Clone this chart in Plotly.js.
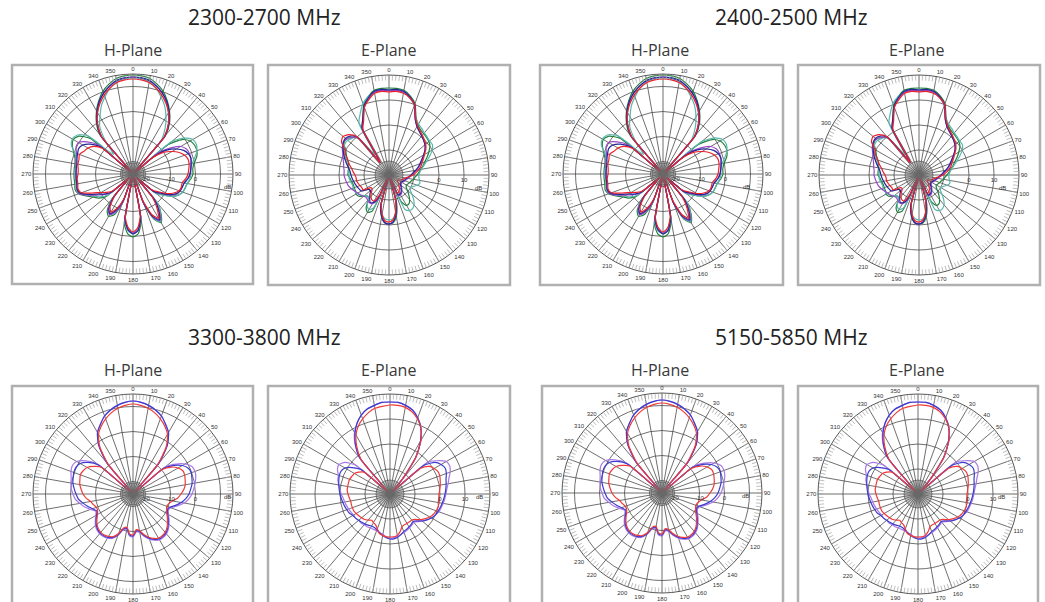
<!DOCTYPE html>
<html><head><meta charset="utf-8">
<script src="https://cdn.plot.ly/plotly-3.0.1.min.js"></script>
<style>html,body{margin:0;padding:0;background:#fff}#chart{width:1045px;height:602px}</style>
</head><body><div id="chart"></div>
<script>
// ---------- angles / tick labels ----------
const ANGLES = [0,5,10,15,20,25,30,35,40,45,50,55,60,65,70,75,80,85,90,95,100,105,110,115,120,125,130,135,140,145,150,155,160,165,170,175,180,185,190,195,200,205,210,215,220,225,230,235,240,245,250,255,260,265,270,275,280,285,290,295,300,305,310,315,320,325,330,335,340,345,350,355,360];
const ANGLE_TICKS = [0,10,20,30,40,50,60,70,80,90,100,110,120,130,140,150,160,170,180,190,200,210,220,230,240,250,260,270,280,290,300,310,320,330,340,350];
const ANGLE_LABELS = ['0','10','20','30','40','50','60','70','80','90','100','110','120','130','140','150','160','170','180','190','200','210','220','230','240','250','260','270','280','290','300','310','320','330','340','350'];
const BAND_TITLES = ['2300-2700 MHz','2400-2500 MHz','3300-3800 MHz','5150-5850 MHz'];
const PLANE_TITLES = ['H-Plane','E-Plane'];

// ---------- gain values (dB), 0..360 step 5 : 2.4 GHz bands, H-plane ----------
const H24_GREEN = [14.6,14.4,13.8,12.2,10.2,7.4,4.2,0.6,-4.6,-25, -7,-1,1.4,2.2,2.2,1.4,-0.2,-1,-1,-1.8, -3,-3.4,-3.8,-5,-7.4,-10.6,-13,-22,-9.8,-5.4, -2.6,-5,-12.2,-25,-6.2,-1,0.2,-1,-5,-25, -12.2,-7,-5.4,-7,-11.4,-22,-11.4,-8.2,-6.6,-4.2, -1.8,-1,-1.4,-1.4,-1.4,-1.4,-1.4,-1,0.2,1.8, 2.6,1.4,-3,-22,-4.2,0.6,4.2,7.4,10.2,12.2, 13.8,14.4,14.6];
const H24_TEAL = [13.4,13.2,12.6,10.6,7.8,5,1.4,-2.6,-7.4,-22, -5,0.2,2.6,3,2.2,0.6,-1,-1.8,-1.8,-2.2, -3,-3.4,-3.8,-5,-7,-10.2,-12.6,-21,-9.8,-5.8, -3,-5.4,-12.6,-25,-7,-2.2,-1,-2.2,-5.8,-25, -12.6,-7.8,-6.6,-7.8,-11.8,-21,-11.8,-9,-7.4,-5, -2.2,-1.4,-1.8,-1.8,-1.8,-1.8,-1.8,-1.4,-0.2,2.2, 3,2.2,-1,-14,-8,-1.8,1.4,5,7.8,10.6, 12.6,13.2,13.4];
const H24_PURPLE = [13.8,13.6,13,11.4,9.4,6.6,3.4,-0.2,-5.4,-25, -12.2,-7,-3,-1.4,-1,-1,-1.4,-1.8,-2.2,-3, -4.2,-4.6,-5,-5.8,-8.2,-11.4,-13.8,-23,-11.4,-6.6, -3.4,-5.8,-12.6,-25,-7.4,-2.6,-1.4,-2.6,-6.6,-25, -13,-8.2,-6.2,-7.8,-12.6,-23,-13,-10.6,-8.2,-5, -2.2,-1.8,-2.2,-2.2,-2.2,-2.2,-1.8,-1.4,-1,0.2, 0.2,-2.6,-7,-25,-5.4,-0.2,3.4,6.6,9.4,11.4, 13,13.6,13.8];
const H24_BLUE = [13.8,13.6,13,11.4,9.4,7,3.8,0.2,-5,-25, -14.2,-8.2,-5,-2.6,-1.4,-1,-1.4,-1.8,-2.2,-3, -4.2,-4.6,-5,-6.2,-8.6,-11.8,-14.2,-23,-11.8,-7, -3.8,-6.2,-13,-25,-7.4,-2.2,-1,-2.6,-6.6,-25, -13.8,-9,-6.6,-8.2,-13,-23,-13.8,-11,-9,-5.8, -2.6,-1.8,-2.2,-2.2,-2.2,-2.2,-2.2,-1.8,-1.4,-1, -1.8,-4.2,-8.2,-25,-5,0.2,3.8,7,9.4,11.4, 13,13.6,13.8];
const H24_RED = [13,12.8,12.2,10.6,8.6,6.2,3.4,-0.2,-5.4,-25, -15,-9.8,-7,-4.6,-3,-2.2,-2.2,-2.6,-3,-3.8, -5,-5,-5.4,-7,-9.4,-12.6,-15,-23,-13,-8.2, -4.6,-7,-13.8,-25,-8.2,-3.4,-1.8,-3.4,-7.4,-25, -14.6,-9.8,-7.4,-9,-13.8,-23,-14.6,-12.2,-10.2,-7, -3,-2.2,-2.6,-2.6,-3,-3,-2.6,-2.6,-2.2,-3.4, -4.2,-5.8,-9,-25,-5.4,-0.2,3.4,6.2,8.6,10.6, 12.2,12.8,13];

// ---------- 2.4 GHz bands, E-plane ----------
const E24_GREEN = [14.8,14.8,14.4,12.8,10.4,5.6,3.2,2,1.6,1.2, 0.8,0,-1.6,-3.2,-4.8,-6,-7.2,-8,-8.8,-9.6, -10,-10.8,-11.2,-11.6,-12,-11.6,-10.4,-8.8,-7.2,-6, -6,-8,-16,-8,-3.2,-0.8,-0.4,-0.8,-2.8,-7.2, -18,-4,-2.8,-4,-7.2,-8,-6.8,-5.2,-4.8,-5.2, -5.2,-5.2,-4.8,-4.4,-3.6,-3.6,-3.6,-3.2,-2.4,-1.2, 0,2,2.4,1.2,-0.8,-13,1.2,4.8,9.6,12.4, 14.4,14.8,14.8];
const E24_TEAL = [14,14,13.6,12,9.6,5.2,3.6,2.8,2,1.6, 1.2,1.2,0,-2,-4,-5.6,-6.8,-7.6,-8,-8, -7.6,-7.2,-8,-9.2,-10,-9.6,-8,-6,-4.4,-3.6, -3.6,-4.8,-16,-8.8,-4.8,-2.4,-2,-2.4,-4,-8, -18,-5.6,-4,-4.8,-7.2,-8,-7.2,-6,-5.2,-4.8, -4.8,-4.8,-4.4,-4,-4,-4,-3.6,-2.8,-1.6,-0.4, 0.8,1.6,1.6,0.8,0,-10,4,7.2,10.4,12.4, 13.6,14,14];
const E24_PURPLE = [13.6,14,13.6,12,9.6,4.8,2.4,1.2,0.4,-0.4, -1.2,-2.4,-4,-5.2,-6.4,-7.6,-8.8,-10,-10.8,-11.6, -12.4,-12.8,-13.2,-13.6,-14,-14,-13.6,-12.8,-12,-11.2, -10.8,-10.8,-20,-9.2,-4,-1.2,-0.4,-0.8,-3.2,-6.8, -20,-8.8,-6.8,-6.4,-6.8,-7.2,-6.8,-6,-5.6,-4.8, -4,-3.2,-2.8,-2.4,-2,-2,-1.6,-1.2,-0.4,0.4, 1.6,2.4,2.4,1.2,-0.4,-14,1.2,4.4,8.8,11.6, 13.6,14,13.6];
const E24_BLUE = [14,14.4,14,12.4,10,4.8,2.4,1.2,0.4,-0.4, -1.2,-2.4,-4,-5.6,-6.8,-8,-9.2,-10.4,-11.2,-12, -12.8,-13.2,-13.6,-14,-14.4,-14.4,-14,-13.2,-12.4,-11.6, -11.2,-11.2,-20,-9.2,-4,-1.2,-0.4,-0.8,-3.2,-7.2, -20,-10,-7.2,-6.8,-8,-9.2,-10.4,-10,-7.2,-6.8, -6.4,-6,-5.6,-5.2,-4.8,-4.4,-3.6,-2.4,-1.2,0, 1.2,2.4,2.8,2,0,-14,1.6,4.8,9.2,12, 14,14.4,14];
const E24_RED = [13.2,13.6,13.2,12,10,5.2,2.8,1.6,0.8,0, -0.8,-2,-3.6,-4.8,-6,-6.8,-8,-9.2,-10.4,-12, -13.2,-14,-14.4,-15.2,-16,-16,-15.2,-14.4,-13.6,-12.8, -12,-12,-20,-10,-4.8,-2,-1.2,-1.6,-4,-8, -20,-11.2,-8,-8,-8.8,-10,-11.2,-11.2,-8,-8, -7.6,-7.2,-6.8,-6.8,-6.4,-5.6,-4.8,-3.6,-2.4,-0.8, 0.4,3.2,4,2.8,0,-14,0.8,4,8.8,11.2, 13.2,13.6,13.2];

// ---------- 3.5 / 5.5 GHz bands, H-plane ----------
const H55_PURPLE = [12.2,11.8,11,9.8,8.2,5.8,3.4,-1,-8.6,-25, -8.2,-4.2,-1,1,1.4,1,0.2,-0.6,-1.4,-2.6, -4.2,-6.6,-9,-9.4,-8.6,-7.4,-6.2,-5,-4.2,-3.8, -3.8,-4.6,-5.8,-7.4,-9.4,-9.8,-7.8,-8.2,-10.6,-10.2, -7.4,-5.4,-4.6,-4.2,-4.2,-4.6,-5.4,-6.6,-7.8,-8.6, -7,-5,-3.4,-1.8,-1,-0.2,0.2,0.6,1.4,1.8, 1,-1.8,-6.2,-25,-8.6,-1,3.4,5.8,8.2,9.8, 11,11.8,12.2];
const H55_BLUE = [12.2,11.8,11,9.8,8.2,5.8,3.4,-1,-9,-25, -9,-5,-2.2,-0.6,-0.2,-0.6,-1,-1.8,-2.6,-3.8, -5.4,-7.4,-9.4,-9.8,-9,-7.8,-6.6,-5.4,-4.6,-4.2, -4.2,-5,-6.2,-7.8,-9.8,-10.2,-8.2,-8.6,-11,-10.6, -7.8,-5.8,-5,-4.6,-4.6,-5,-5.8,-7,-8.2,-9, -7.8,-6.2,-4.6,-3,-2.2,-1.4,-0.6,-0.2,0.2,0.2, -0.6,-3,-7,-25,-9,-1,3.4,5.8,8.2,9.8, 11,11.8,12.2];
const H55_RED = [11,10.6,9.8,8.6,7,5,2.6,-1.8,-9.8,-25, -9.8,-6.2,-4.2,-3,-3,-3.4,-3.8,-4.6,-5.8,-7, -9,-10.2,-10.6,-10.2,-9.4,-8.2,-7,-5.8,-5,-4.6, -4.6,-5.4,-6.6,-8.2,-10.2,-10.6,-8.6,-9,-11.4,-11, -8.2,-6.2,-5.4,-5,-5,-5.4,-6.2,-7.4,-8.6,-9.4, -9.4,-8.6,-7.8,-6.2,-5,-4.2,-3.4,-3,-2.6,-3, -3.8,-5.8,-8.2,-25,-9.8,-1.8,2.6,5,7,8.6, 9.8,10.6,11];

// ---------- 3.5 / 5.5 GHz bands, E-plane ----------
const E55_PURPLE = [16.8,16.8,16,14.8,12.4,9.2,4.4,-1.6,-12,-19, 0,3.2,6,6.4,5.6,4.4,3.6,2.8,2.4,2, 1.6,1.2,0.8,0,-0.8,-2,-3.2,-4.4,-5.2,-4.8, -4.4,-4,-3.6,-3.2,-2.8,-2.4,-2.4,-2.8,-3.6,-4, -4.4,-4.4,-4.4,-4,-4,-3.6,-3.6,-3.2,-3.2,-2.8, -2.4,-2,-1.6,-1.2,-0.4,0,0.8,1.6,2,3.2, 3.6,2,-2,-19,-1.2,4.4,8.4,11.2,13.6,15.2, 16,16.8,16.8];
const E55_BLUE = [16.8,16.8,16,14.8,12.4,9.2,4.4,-2,-12,-19, -2,2,3.6,4.4,4,3.2,2.8,2.4,2,1.6, 1.2,0.8,0.4,0,-0.8,-2,-3.2,-4.8,-5.6,-5.2, -4.8,-4.4,-4,-3.2,-2.4,-2,-2,-2.4,-3.2,-4, -4.8,-5.2,-5.2,-4.8,-4.4,-4,-3.6,-3.2,-2.8,-2, -1.6,-1.2,-0.8,-0.4,0,0.4,0.8,1.2,1.6,1.6, 0.8,-1.6,-4.8,-19,-1.2,4,8,11.2,13.6,15.2, 16,16.8,16.8];
const E55_RED = [15.6,15.6,15.2,14,12,9.2,4.8,-2,-13,-19, -4,-0.8,0.4,1.2,1.2,0.8,0.4,0,-0.4,-0.4, -0.4,0,-0.4,-0.8,-1.6,-2.8,-4,-5.6,-6.4,-6.4, -6.4,-6.4,-6,-4.4,-3.2,-2.8,-2.8,-2.8,-3.2,-3.6, -5.2,-6.4,-6.8,-7.2,-6.4,-5.6,-5.2,-4.8,-4.4,-4, -4,-4,-4,-3.6,-3.2,-2.8,-2.8,-2.8,-2.8,-3.2, -3.6,-4.8,-6.4,-19,-2,3.2,7.2,10,12,13.6, 14.8,15.2,15.6];

// ---------- layout constants ----------
const W = 1045, HT = 602, R = 100;
const COL = {green:'#23803d', teal:'#58b8ae', purple:'#9a48c8', blue:'#26269a', red:'#ee2028',
             blue2:'#3b3bd0', purple2:'#a878e6', red2:'#f03a3a'};
const SETS = {
  H24: [[H24_GREEN,COL.green],[H24_TEAL,COL.teal],[H24_PURPLE,COL.purple],[H24_BLUE,COL.blue],[H24_RED,COL.red]],
  E24: [[E24_GREEN,COL.green],[E24_TEAL,COL.teal],[E24_PURPLE,COL.purple],[E24_BLUE,COL.blue],[E24_RED,COL.red]],
  H55: [[H55_PURPLE,COL.purple2],[H55_BLUE,COL.blue2],[H55_RED,COL.red2]],
  E55: [[E55_PURPLE,COL.purple2],[E55_BLUE,COL.blue2],[E55_RED,COL.red2]]
};
const PANELS = [
  {cx:133, cy:174, plane:'H', set:'H24', box:[12,65,253,284]},
  {cx:389, cy:175, plane:'E', set:'E24', box:[268,65,510,285]},
  {cx:663, cy:174, plane:'H', set:'H24', box:[540,65,783,285]},
  {cx:919, cy:175, plane:'E', set:'E24', box:[798,65,1040,285]},
  {cx:133, cy:494, plane:'H', set:'H55', box:[12,386,253,640]},
  {cx:390, cy:494, plane:'E', set:'E55', box:[268,386,510,640]},
  {cx:662, cy:493, plane:'H', set:'H55', box:[542,386,783,640]},
  {cx:918, cy:494, plane:'E', set:'E55', box:[798,386,1038,640]}
];
const TITLE_POS = [[264,17],[791,17],[264,337],[791,337]];
const LABEL_POS = [[133,50],[388,50],[660,50],[916,50],[133,370],[388,370],[660,370],[916,370]];

const px = x => x / W;
const py = y => 1 - y / HT;
const dom = (cx, cy, r) => ({x:[px(cx - r), px(cx + r)], y:[py(cy + r), py(cy - r)]});
const SMALL = {size:6, color:'#333', family:'Liberation Sans, Arial, sans-serif'};

const traces = [];
const layout = {
  width: W, height: HT, margin:{l:0,r:0,t:0,b:0},
  paper_bgcolor:'#fff', showlegend:false, hovermode:false,
  font:{family:'Open Sans, Noto Sans, sans-serif', color:'#333'},
  shapes:[], annotations:[]
};

let n = 0;
PANELS.forEach((p, i) => {
  const isH = p.plane === 'H';
  n++; const mainId = 'polar' + (n === 1 ? '' : n);
  layout[mainId] = {
    domain: dom(p.cx, p.cy, R),
    bgcolor:'#fff',
    angularaxis:{rotation:90, direction:'clockwise', tickmode:'array', tickvals:ANGLE_TICKS, ticktext:ANGLE_LABELS,
      tickfont:SMALL, ticks:'', showgrid:true, gridcolor:'#4a4a4a', gridwidth:0.8,
      showline:true, linecolor:'#555', linewidth:1},
    radialaxis:{range: isH ? [-25,15] : [-20,20], tickmode:'array',
      tickvals: isH ? [-20,-10,0,10] : [-10,0,10],
      ticktext: isH ? ['-20','-10','0',''] : ['','0','10'],
      angle:0, tickangle:0, side:'clockwise', showline:false, ticks:'',
      gridcolor:'#4a4a4a', gridwidth:0.8, tickfont:SMALL}
  };
  SETS[p.set].forEach(([vals, color]) => {
    traces.push({type:'scatterpolar', subplot: mainId, r: vals, theta: ANGLES,
      mode:'lines', line:{color, width:1.2, shape:'spline', smoothing:0.6}, hoverinfo:'skip'});
  });
  n++; const bandId = 'polar' + n;
  layout[bandId] = {
    domain: dom(p.cx, p.cy, R), bgcolor:'rgba(0,0,0,0)',
    angularaxis:{rotation:90, direction:'clockwise', tickmode:'linear', tick0:0, dtick:2, showticklabels:false,
      ticks:'inside', ticklen:5, tickcolor:'#a8a8a8', tickwidth:0.7, showgrid:false, showline:false},
    radialaxis:{visible:false}
  };
  traces.push({type:'scatterpolar', subplot: bandId, r:[], theta:[], mode:'lines', hoverinfo:'skip'});
  n++; const coreId = 'polar' + n;
  const rc = isH ? 11 : 14;
  layout[coreId] = {
    domain: dom(p.cx, p.cy, rc), bgcolor:'rgba(0,0,0,0)',
    angularaxis:{rotation:90, direction:'clockwise', tickmode:'linear', tick0:0, dtick:4, showticklabels:false,
      ticks:'', showgrid:true, gridcolor:'#6a6a6a', gridwidth:0.4, showline:true, linecolor:'#555', linewidth:0.7},
    radialaxis:{visible:false}
  };
  traces.push({type:'scatterpolar', subplot: coreId, r:[], theta:[], mode:'lines', hoverinfo:'skip'});

  layout.shapes.push({type:'rect', xref:'paper', yref:'paper', x0:px(p.box[0]), x1:px(p.box[2]),
    y0:py(p.box[3]), y1:py(p.box[1]), line:{color:'#b0b0b0', width:2.5}, fillcolor:'rgba(0,0,0,0)', layer:'below'});
  layout.annotations.push({xref:'paper', yref:'paper', x:px(p.cx + 89), y:py(p.cy + 8), text:'dB', showarrow:false, font:SMALL});
  layout.annotations.push({xref:'paper', yref:'paper', x:px(LABEL_POS[i][0]), y:py(LABEL_POS[i][1]),
    text: PLANE_TITLES[i % 2], showarrow:false, xanchor:'center', yanchor:'middle',
    font:{size:16, color:'#3a3a3a', family:'Open Sans, sans-serif'}});
});
BAND_TITLES.forEach((t, j) => {
  layout.annotations.push({xref:'paper', yref:'paper', x:px(TITLE_POS[j][0]), y:py(TITLE_POS[j][1]), text:t,
    showarrow:false, xanchor:'center', yanchor:'middle', font:{size:21, color:'#222', family:'Open Sans, sans-serif'}});
});

Plotly.newPlot('chart', traces, layout, {staticPlot:true, displayModeBar:false});
</script>
</body></html>
